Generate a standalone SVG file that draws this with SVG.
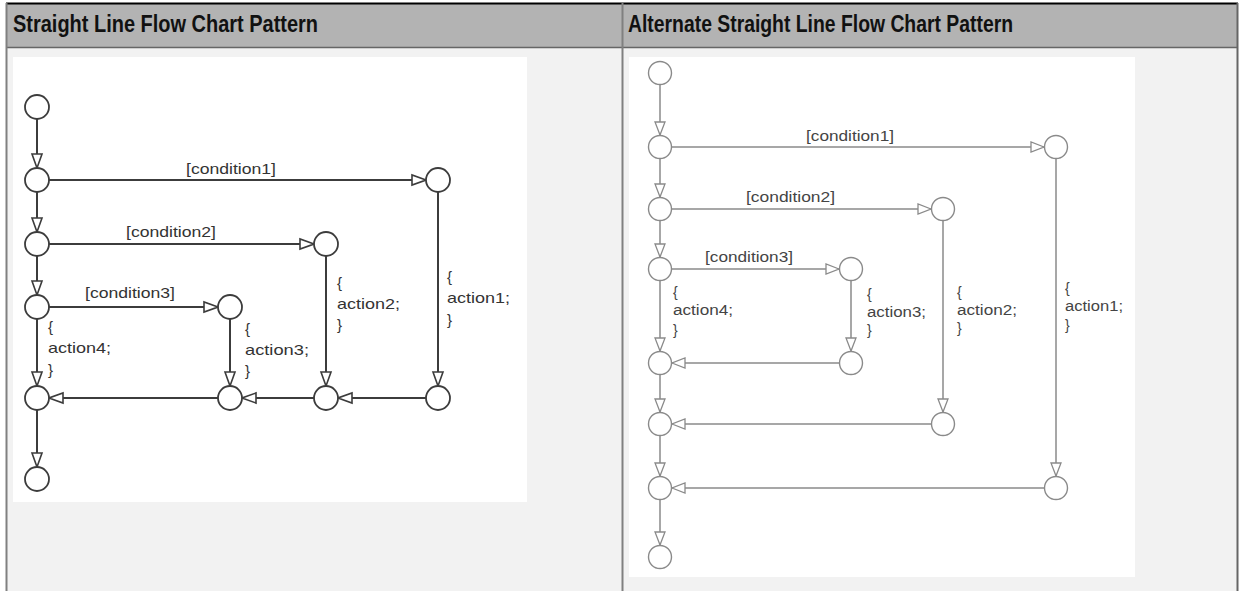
<svg xmlns="http://www.w3.org/2000/svg" width="1239" height="591" viewBox="0 0 1239 591">
<style>
.hdr{font-family:"Liberation Sans",Arial,sans-serif;font-weight:bold;font-size:23px;fill:#111}
.lt{font-family:"Liberation Sans",Arial,sans-serif;font-size:15px;fill:#333}
.rt{font-family:"Liberation Sans",Arial,sans-serif;font-size:14px;fill:#444}
.ln{stroke:#3c3c3c;stroke-width:2;fill:none;marker-end:url(#aL)}
.rn{stroke:#8a8a8a;stroke-width:1.5;fill:none;marker-end:url(#aR)}
.lc{fill:#fff;stroke:#3c3c3c;stroke-width:1.8}
.rc{fill:#fff;stroke:#8a8a8a;stroke-width:1.4}
</style>
<defs>
<marker id="aL" markerUnits="userSpaceOnUse" markerWidth="18" markerHeight="14" viewBox="-16 -7 18 14" refX="0" refY="0" orient="auto">
<path d="M0,0 L-14,-5 L-14,5 Z" fill="#fff" stroke="#3c3c3c" stroke-width="1.6"/>
</marker>
<marker id="aR" markerUnits="userSpaceOnUse" markerWidth="18" markerHeight="14" viewBox="-16 -7 18 14" refX="0" refY="0" orient="auto">
<path d="M0,0 L-13,-5 L-13,5 Z" fill="#fff" stroke="#8a8a8a" stroke-width="1.3"/>
</marker>
</defs>
<!-- table -->
<g id="table">
<rect x="0" y="0" width="1239" height="591" fill="#fff"/>
<rect x="6" y="3" width="1232" height="44" fill="#b3b3b3"/>
<rect x="6" y="48" width="1232" height="543" fill="#f2f2f2"/>
<line x1="6" y1="3.5" x2="1238" y2="3.5" stroke="#000" stroke-width="2"/>
<line x1="6" y1="47.5" x2="1238" y2="47.5" stroke="#666" stroke-width="1.5"/>
<line x1="6.5" y1="3" x2="6.5" y2="591" stroke="#808080" stroke-width="2"/>
<line x1="622.5" y1="3" x2="622.5" y2="591" stroke="#808080" stroke-width="2"/>
<line x1="1237.5" y1="3" x2="1237.5" y2="591" stroke="#666" stroke-width="2"/>
<text class="hdr" x="13" y="32" textLength="305" lengthAdjust="spacingAndGlyphs">Straight Line Flow Chart Pattern</text>
<text class="hdr" x="628" y="32" textLength="385" lengthAdjust="spacingAndGlyphs">Alternate Straight Line Flow Chart Pattern</text>
<rect x="13" y="57" width="514" height="445" fill="#fff"/>
<rect x="629" y="57" width="506" height="520" fill="#fff"/>
</g>
<!-- left connectors -->
<g id="left-connectors">
<line class="ln" x1="37" y1="119" x2="37" y2="168"/>
<line class="ln" x1="37" y1="192" x2="37" y2="232"/>
<line class="ln" x1="37" y1="256" x2="37" y2="295"/>
<line class="ln" x1="37" y1="319" x2="37" y2="386"/>
<line class="ln" x1="37" y1="410" x2="37" y2="467"/>
<line class="ln" x1="49" y1="180" x2="426" y2="180"/>
<line class="ln" x1="49" y1="244" x2="314" y2="244"/>
<line class="ln" x1="49" y1="307" x2="218" y2="307"/>
<line class="ln" x1="438" y1="192" x2="438" y2="386"/>
<line class="ln" x1="326" y1="256" x2="326" y2="386"/>
<line class="ln" x1="230" y1="319" x2="230" y2="386"/>
<line class="ln" x1="426" y1="398" x2="338" y2="398"/>
<line class="ln" x1="314" y1="398" x2="242" y2="398"/>
<line class="ln" x1="218" y1="398" x2="49" y2="398"/>
<text class="lt" x="186" y="174" textLength="90" lengthAdjust="spacingAndGlyphs">[condition1]</text>
<text class="lt" x="126" y="237" textLength="90" lengthAdjust="spacingAndGlyphs">[condition2]</text>
<text class="lt" x="85" y="298" textLength="90" lengthAdjust="spacingAndGlyphs">[condition3]</text>
<text class="lt" x="447" y="282">{</text>
<text class="lt" x="447" y="303" textLength="63" lengthAdjust="spacingAndGlyphs">action1;</text>
<text class="lt" x="447" y="325">}</text>
<text class="lt" x="337" y="288">{</text>
<text class="lt" x="337" y="309" textLength="63" lengthAdjust="spacingAndGlyphs">action2;</text>
<text class="lt" x="337" y="330">}</text>
<text class="lt" x="245" y="334">{</text>
<text class="lt" x="245" y="355" textLength="64" lengthAdjust="spacingAndGlyphs">action3;</text>
<text class="lt" x="245" y="376">}</text>
<text class="lt" x="48" y="332">{</text>
<text class="lt" x="48" y="353" textLength="63" lengthAdjust="spacingAndGlyphs">action4;</text>
<text class="lt" x="48" y="375">}</text>
</g>
<!-- left nodes -->
<g id="L-start"><circle class="lc" cx="37" cy="107" r="12"/></g>
<g id="L-n1"><circle class="lc" cx="37" cy="180" r="12"/></g>
<g id="L-n2"><circle class="lc" cx="37" cy="244" r="12"/></g>
<g id="L-n3"><circle class="lc" cx="37" cy="307" r="12"/></g>
<g id="L-merge"><circle class="lc" cx="37" cy="398" r="12"/></g>
<g id="L-end"><circle class="lc" cx="37" cy="479" r="12"/></g>
<g id="L-c1"><circle class="lc" cx="438" cy="180" r="12"/></g>
<g id="L-c2"><circle class="lc" cx="326" cy="244" r="12"/></g>
<g id="L-c3"><circle class="lc" cx="230" cy="307" r="12"/></g>
<g id="L-b1"><circle class="lc" cx="438" cy="398" r="12"/></g>
<g id="L-b2"><circle class="lc" cx="326" cy="398" r="12"/></g>
<g id="L-b3"><circle class="lc" cx="230" cy="398" r="12"/></g>
<!-- right connectors -->
<g id="right-connectors">
<line class="rn" x1="660" y1="85" x2="660" y2="135"/>
<line class="rn" x1="660" y1="159" x2="660" y2="197"/>
<line class="rn" x1="660" y1="221" x2="660" y2="257"/>
<line class="rn" x1="660" y1="281" x2="660" y2="351"/>
<line class="rn" x1="660" y1="375" x2="660" y2="412"/>
<line class="rn" x1="660" y1="436" x2="660" y2="476"/>
<line class="rn" x1="660" y1="500" x2="660" y2="545"/>
<line class="rn" x1="672" y1="147" x2="1044" y2="147"/>
<line class="rn" x1="672" y1="209" x2="931" y2="209"/>
<line class="rn" x1="672" y1="269" x2="839" y2="269"/>
<line class="rn" x1="1056" y1="159" x2="1056" y2="476"/>
<line class="rn" x1="943" y1="221" x2="943" y2="412"/>
<line class="rn" x1="851" y1="281" x2="851" y2="351"/>
<line class="rn" x1="839" y1="363" x2="672" y2="363"/>
<line class="rn" x1="931" y1="424" x2="672" y2="424"/>
<line class="rn" x1="1044" y1="488" x2="672" y2="488"/>
<text class="rt" x="806" y="141" textLength="88" lengthAdjust="spacingAndGlyphs">[condition1]</text>
<text class="rt" x="746" y="202" textLength="89" lengthAdjust="spacingAndGlyphs">[condition2]</text>
<text class="rt" x="705" y="262" textLength="88" lengthAdjust="spacingAndGlyphs">[condition3]</text>
<text class="rt" x="1065" y="293">{</text>
<text class="rt" x="1065" y="311" textLength="58" lengthAdjust="spacingAndGlyphs">action1;</text>
<text class="rt" x="1065" y="330">}</text>
<text class="rt" x="957" y="297">{</text>
<text class="rt" x="957" y="315" textLength="60" lengthAdjust="spacingAndGlyphs">action2;</text>
<text class="rt" x="957" y="333">}</text>
<text class="rt" x="867" y="299">{</text>
<text class="rt" x="867" y="317" textLength="59" lengthAdjust="spacingAndGlyphs">action3;</text>
<text class="rt" x="867" y="335">}</text>
<text class="rt" x="673" y="297">{</text>
<text class="rt" x="673" y="315" textLength="60" lengthAdjust="spacingAndGlyphs">action4;</text>
<text class="rt" x="673" y="335">}</text>
</g>
<!-- right nodes -->
<g id="R-start"><circle class="rc" cx="660" cy="73" r="11.5"/></g>
<g id="R-n1"><circle class="rc" cx="660" cy="147" r="11.5"/></g>
<g id="R-n2"><circle class="rc" cx="660" cy="209" r="11.5"/></g>
<g id="R-n3"><circle class="rc" cx="660" cy="269" r="11.5"/></g>
<g id="R-m3"><circle class="rc" cx="660" cy="363" r="11.5"/></g>
<g id="R-m2"><circle class="rc" cx="660" cy="424" r="11.5"/></g>
<g id="R-m1"><circle class="rc" cx="660" cy="488" r="11.5"/></g>
<g id="R-end"><circle class="rc" cx="660" cy="557" r="11.5"/></g>
<g id="R-c1"><circle class="rc" cx="1056" cy="147" r="11.5"/></g>
<g id="R-c2"><circle class="rc" cx="943" cy="209" r="11.5"/></g>
<g id="R-c3"><circle class="rc" cx="851" cy="269" r="11.5"/></g>
<g id="R-b3"><circle class="rc" cx="851" cy="363" r="11.5"/></g>
<g id="R-b2"><circle class="rc" cx="943" cy="424" r="11.5"/></g>
<g id="R-b1"><circle class="rc" cx="1056" cy="488" r="11.5"/></g>
</svg>
